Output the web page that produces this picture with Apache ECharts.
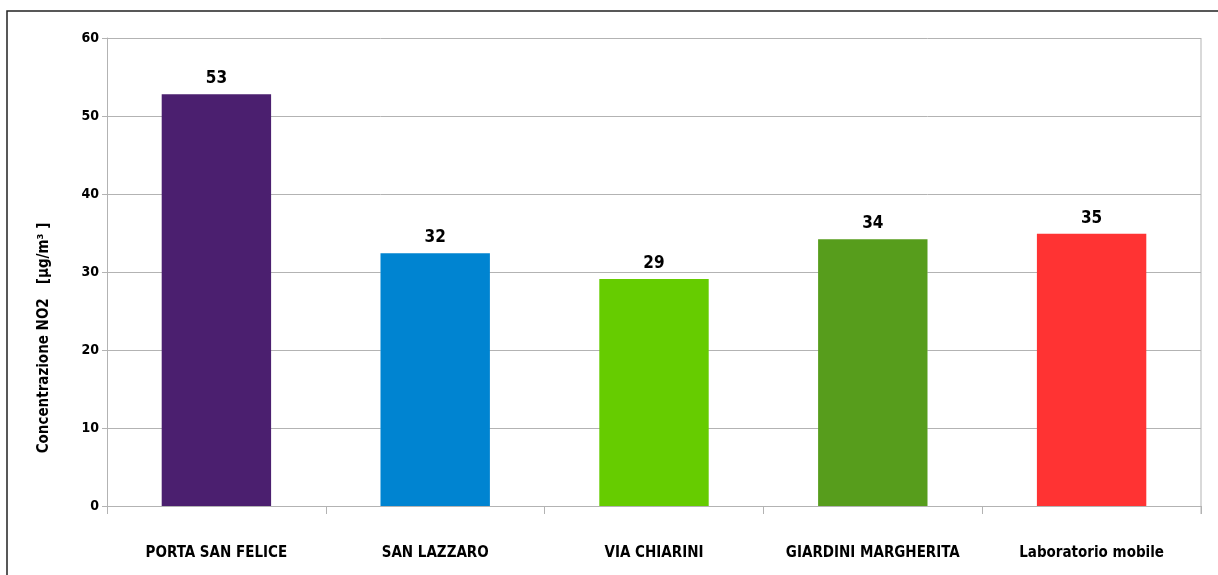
<!DOCTYPE html>
<html>
<head>
<meta charset="utf-8">
<script src="https://cdn.jsdelivr.net/npm/echarts@6/dist/echarts.min.js"></script>
<style>
html, body { margin: 0; padding: 0; background: #fff; }
#main { width: 1218px; height: 575px; }
</style>
</head>
<body>
<div id="main"></div>
<script>
var myChart = echarts.init(document.getElementById('main'));

let stations = ['PORTA SAN FELICE', 'SAN LAZZARO', 'VIA CHIARINI', 'GIARDINI MARGHERITA', 'Laboratorio mobile'];
let values = [52.8, 32.4, 29.1, 34.2, 34.9];
let colors = ['#4B1F6F', '#0084D1', '#66CC00', '#579D1C', '#FF3333'];
let yTicks = [0, 10, 20, 30, 40, 50, 60];

let font = "'Liberation Sans Narrow', 'DejaVu Sans Condensed', 'Liberation Sans', sans-serif";

option = {
	animation: false,
	backgroundColor: '#fff',
	grid: {
		left: 107,
		right: 17,
		top: 38,
		bottom: 69
	},
	graphic: [{
		type: 'rect',
		shape: { x: 7, y: 11, width: 1300, height: 700 },
		style: { fill: 'none', stroke: '#222', lineWidth: 1.5 },
		z: -1
	}, {
		type: 'text',
		x: 44,
		y: 338,
		rotation: Math.PI / 2,
		style: {
			text: 'Concentrazione NO2   [µg/m³ ]',
			fontSize: 15,
			fontWeight: 'bold',
			fontFamily: font,
			fill: '#000',
			align: 'center',
			verticalAlign: 'middle'
		}
	}],
	xAxis: {
		type: 'category',
		data: stations,
		axisLine: { lineStyle: { color: '#b3b3b3' } },
		axisTick: { show: true, length: 8, interval: 0, lineStyle: { color: '#b3b3b3' } },
		axisLabel: {
			interval: 0,
			margin: 40,
			color: '#000',
			fontSize: 15,
			fontWeight: 'bold',
			fontFamily: font
		}
	},
	yAxis: {
		type: 'value',
		min: yTicks[0],
		max: yTicks[yTicks.length - 1],
		interval: 10,
		axisLine: { show: true, lineStyle: { color: '#b3b3b3' } },
		axisTick: { show: true, length: 5, lineStyle: { color: '#b3b3b3' } },
		splitLine: { lineStyle: { color: '#b3b3b3' } },
		axisLabel: {
			margin: 8,
			color: '#000',
			fontSize: 14,
			fontWeight: 'bold',
			fontFamily: font
		}
	},
	series: [{
		type: 'bar',
		barWidth: '50%',
		data: values.map((v, i) => ({ value: v, itemStyle: { color: colors[i] } })),
		label: {
			show: true,
			position: 'top',
			distance: 7,
			color: '#000',
			fontSize: 17,
			fontWeight: 'bold',
			fontFamily: font,
			formatter: p => Math.round(p.value)
		}
	}]
};
myChart.setOption(option);

// right side vertical line of the grid
let rect = myChart.getModel().getComponent('grid').coordinateSystem.getRect();
myChart.setOption({
	graphic: [{}, {}, {
		type: 'line',
		shape: { x1: rect.x + rect.width, y1: rect.y, x2: rect.x + rect.width, y2: rect.y + rect.height + 8 },
		style: { stroke: '#b3b3b3', lineWidth: 1 }
	}]
});
</script>
</body>
</html>
